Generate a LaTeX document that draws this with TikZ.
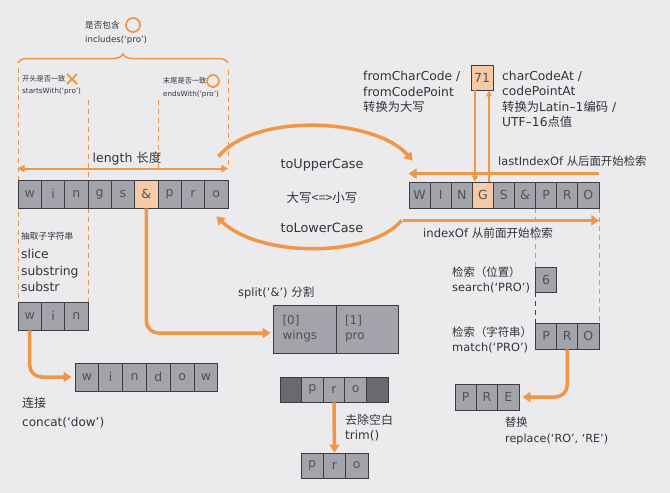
\documentclass[tikz,border=0pt]{standalone}
\usepackage{fontspec}
\setmainfont{DejaVu Sans}
\newfontfamily\zh{Noto Sans CJK SC}
\usetikzlibrary{arrows.meta,calc,decorations.pathreplacing}
\definecolor{paper}{RGB}{235,235,238}
\definecolor{ink}{RGB}{50,50,56}
\definecolor{edge}{RGB}{60,60,66}
\definecolor{cellgray}{RGB}{163,163,171}
\definecolor{darkcell}{RGB}{105,105,111}
\definecolor{peach}{RGB}{246,202,166}
\definecolor{accent}{RGB}{240,150,70}

\begin{document}
\begin{tikzpicture}[x=1pt,y=-1pt,
 cell/.style={draw=edge,fill=cellgray,line width=.8pt,inner sep=0pt,text=ink!85,font=\fontsize{12.5}{12.5}\selectfont},
 lbl/.style={text=ink,inner sep=0pt,anchor=west,align=left,font=\fontsize{12.3}{15.5}\selectfont},
 small/.style={lbl,font=\fontsize{7.2}{9}\selectfont},
 big/.style={lbl,font=\fontsize{12.8}{16}\selectfont},
 oarrow/.style={draw=accent,line width=3.5pt,-{Triangle[width=10pt,length=8pt]}},
 oline/.style={draw=accent,line width=1.8pt,-{Triangle[width=6pt,length=6pt]}},
 odash/.style={draw=accent,line width=1pt,dash pattern=on 5pt off 4pt},
 omark/.style={draw=accent,line width=1.8pt}]
 \fill[paper] (0,0) rectangle (670,493);\useasboundingbox (0,0) rectangle (670,493);
 \draw[odash] (18,68)--(18,302) (88,100)--(88,302) (158,100)--(158,169) (228,70)--(228,169);
 \draw[odash] (535.6,208)--(535.6,267) (599.5,208)--(599.5,323);
 \draw[draw=edge,line width=1pt,dash pattern=on 5pt off 4pt] (535.6,292)--(535.6,323);
 \draw[accent,line width=1.5pt,decorate,decoration={brace,amplitude=9pt}] (18,63) -- (228,63);
 \draw[omark] (133,25) circle (7pt) (213,81) circle (6pt) (67,74)--(77,84) (67,84)--(77,74);

 \foreach \c [count=\i] in {w,i,n,g,s,\&,p,r,o}{\ifnum\i=6 \def\f{peach}\else\def\f{cellgray}\fi
  \node[cell,fill=\f,minimum width=23.33pt,minimum height=28pt] (s\i) at ({18+23.33*(\i-.5)},194) {\c};}
 \foreach \c [count=\i] in {W,I,N,G,S,\&,P,R,O}{\ifnum\i=4 \def\f{peach}\else\def\f{cellgray}\fi
  \node[cell,fill=\f,minimum width=21.1pt,minimum height=26pt] (r\i) at ({409+21.1*(\i-.5)},195) {\c};}
 \foreach \c [count=\i] in {w,i,n} \node[cell,minimum width=23.33pt,minimum height=28pt] (w\i) at ({18+23.33*(\i-.5)},316) {\c};
 \foreach \c [count=\i] in {w,i,n,d,o,w} \node[cell,minimum width=23.8pt,minimum height=28pt] (d\i) at ({75+23.8*(\i-.5)},377) {\c};
 \foreach \c/\f [count=\i] in {/darkcell,p/cellgray,r/cellgray,o/cellgray,/darkcell}
  \node[cell,fill=\f,minimum width=21.6pt,minimum height=25pt] (t\i) at ({280+21.6*(\i-.5)},389.5) {\c};
 \foreach \c [count=\i] in {p,r,o} \node[cell,minimum width=22.3pt,minimum height=25pt] (b\i) at ({301+22.3*(\i-.5)},465.5) {\c};
 \foreach \c [count=\i] in {P,R,O} \node[cell,minimum width=21.1pt,minimum height=26pt] (m\i) at ({535.6+21.1*(\i-.5)},336) {\c};
 \foreach \c [count=\i] in {P,R,E} \node[cell,minimum width=21.3pt,minimum height=26pt] (e\i) at ({455+21.3*(\i-.5)},397) {\c};
 \node[cell,fill=peach,minimum width=22pt,minimum height=25pt] (code) at (482,77.5) {71};
 \node[cell,minimum width=21.1pt,minimum height=25pt] (six) at (546.15,279.5) {6};
 \node[cell,minimum width=63pt,minimum height=48pt,align=left,text width=44pt,font=\fontsize{12}{15}\selectfont] (sp0) at (304.5,329) {[0]\\wings};
 \node[cell,minimum width=62pt,minimum height=48pt,align=left,text width=44pt,font=\fontsize{12}{15}\selectfont] (sp1) at (367,329) {[1]\\pro};

 \draw[accent,line width=1.8pt,{Triangle[width=7pt,length=7pt]}-{Triangle[width=7pt,length=7pt]}] ([yshift=11pt]s1.north west) -- ([yshift=11pt]s9.north east);
 \draw[oarrow,rounded corners=12pt,shorten >=3pt] (w1.south) |- (d1.west);
 \draw[oarrow,rounded corners=12pt,shorten >=2pt] (s6.south) |- ([yshift=-4pt]sp0.west);
 \draw[oarrow,rounded corners=12pt,shorten >=3pt] (m2.south) |- (e3.east);
 \draw[oarrow] (t3.south) -- (b2.north);
 \draw[oline] ([xshift=-7pt]code.south) -- ([xshift=-7pt]code.south |- r4.north);
 \draw[oline] ([xshift=7pt]code.south |- r4.north) -- ([xshift=7pt]code.south);
 \draw[oarrow] ([yshift=8pt]r9.north east) -- ([yshift=8pt]r1.north west);
 \draw[oarrow] ([shift={(-6pt,-12pt)}]r1.south west) -- ([yshift=-12pt]r9.south east);
 \draw[oarrow] ([shift={(-10pt,23pt)}]s9.north east) .. controls (255,112) and (375,118) .. ([shift={(4pt,21pt)}]r1.north west);
 \draw[oarrow] ([shift={(-7pt,-12pt)}]r1.south west) .. controls (370,258) and (260,258) .. ([shift={(-12pt,-8pt)}]s9.south east);

 \node[small,font=\fontsize{8.6}{10}\selectfont] (inc) at (85,25) {\zh 是否包含};
 \node[small,font=\fontsize{8.6}{10}\selectfont] (incl) at (85,40) {includes(`pro')};
 \node[small] (sw) at (22,79) {\zh 开头是否一致}; \node[small] (swl) at (22,92) {startsWith(`pro')};
 \node[small] (ew) at (163,81) {\zh 末尾是否一致}; \node[small] (ewl) at (163,95) {endsWith(`pro')};
 \node[big,anchor=center,font=\fontsize{12.5}{15}\selectfont] (len) at (127,159) {length {\zh 长度}};
 \node[small,font=\fontsize{8.7}{10}\selectfont] (sub) at (21,236) {\zh 抽取子字符串};
 \node[lbl,font=\fontsize{12.3}{16.5}\selectfont] (subl) at (21,270.5) {slice\\substring\\substr};
 \node[lbl,font=\fontsize{12}{19}\selectfont] (cat) at (22,412.5) {{\zh 连接}\\concat(`dow')};
 \node[lbl,font=\fontsize{11.5}{15}\selectfont] (spl) at (238,293) {split(`\&') {\zh 分割}};
 \node[big,anchor=center] (up) at (322,165) {toUpperCase};
 \node[big,anchor=center,font=\zh\fontsize{12.5}{15}\selectfont] (ul) at (322,198) {大写<=>小写};
 \node[big,anchor=center] (lo) at (322,228) {toLowerCase};
 \node[lbl] (fcc) at (363,92) {fromCharCode /\\fromCodePoint\\{\zh 转换为大写}};
 \node[lbl] (cca) at (502,99.5) {charCodeAt /\\codePointAt\\{\zh 转换为}Latin--1{\zh 编码} /\\UTF--16{\zh 点值}};
 \node[lbl,font=\fontsize{11.4}{15}\selectfont] (lix) at (498,161) {lastIndexOf {\zh 从后面开始检索}};
 \node[lbl,font=\fontsize{11.6}{15}\selectfont] (ix) at (423,233) {indexOf {\zh 从前面开始检索}};
 \node[lbl,font=\fontsize{11.4}{15}\selectfont] (srch) at (452,279.5) {{\zh 检索（位置）}\\search(`PRO')};
 \node[lbl,font=\fontsize{11.4}{15}\selectfont] (mtch) at (452,339.5) {{\zh 检索（字符串）}\\match(`PRO')};
 \node[lbl,font=\fontsize{11.2}{16}\selectfont] (rep) at (505,431) {{\zh 替换}\\replace(`RO', `RE')};
 \node[lbl,font=\fontsize{12}{15}\selectfont] (trm) at (345,427.5) {{\zh 去除空白}\\trim()};
\end{tikzpicture}
\end{document}
